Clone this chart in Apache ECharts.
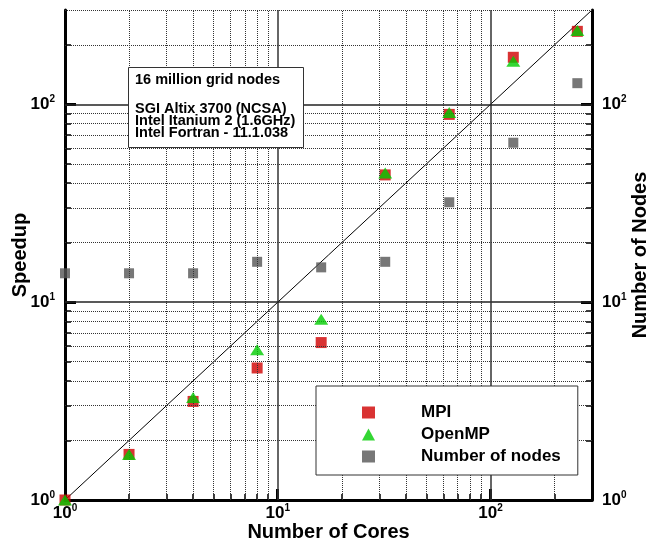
<!DOCTYPE html>
<html>
<head>
<meta charset="utf-8">
<script src="https://cdn.jsdelivr.net/npm/echarts@6/dist/echarts.min.js"></script>
<style>
html,body{margin:0;padding:0;background:#fff;}
#chart{width:651px;height:546px;}
</style>
</head>
<body>
<div id="chart"></div>
<script>
// ---- data ----
const cores = [1, 2, 4, 8, 16, 32, 64, 128, 256];
const mpiSpeedup = [1, 1.7, 3.15, 4.65, 6.25, 44, 89, 173, 234];
const openmpSpeedup = [1, 1.7, 3.3, 5.75, 8.2, 45, 91, 165, 236];
const numNodes = [14, 14, 14, 16, 15, 16, 32, 64, 128];
const idealLine = [1, 300];
const majorTicks = [10, 100];
const labelTicks = [1, 10, 100];
const minorValues = [2, 3, 4, 5, 6, 7, 8, 9, 20, 30, 40, 50, 60, 70, 80, 90, 200];
const infoTitle = '16 million grid nodes';
const infoLines = ['SGI Altix 3700 (NCSA)', 'Intel Itanium 2 (1.6GHz)', 'Intel Fortran - 11.1.038'];

const FONT = '"Liberation Sans", Arial, Helvetica, sans-serif';
const chart = echarts.init(document.getElementById('chart'), null, {renderer: 'canvas'});

const pow10Label = v => '{b|10}{s|' + Math.round(Math.log10(v)) + '}';
const labelRich = {
  b: {fontSize: 17, fontWeight: 'bold', fontFamily: FONT, color: '#000', lineHeight: 20},
  s: {fontSize: 10, fontWeight: 'bold', fontFamily: FONT, color: '#000', verticalAlign: 'top', lineHeight: 12}
};

function mainAxis(extra) {
  return Object.assign({
    type: 'log', logBase: 10, min: 1, max: 300,
    axisLine: {show: true, lineStyle: {color: '#000', width: 3}},
    axisTick: {show: true, inside: true, length: 11, customValues: majorTicks, lineStyle: {color: '#000', width: 3}},
    axisLabel: {show: true, customValues: labelTicks, formatter: pow10Label, rich: labelRich},
    splitLine: {show: false},
    minorTick: {show: false},
    nameMoveOverlap: false,
    nameTextStyle: {fontSize: 20, fontWeight: 'bold', fontFamily: FONT, color: '#000'}
  }, extra);
}
function minorAxis(extra) {
  return Object.assign({
    type: 'log', logBase: 10, min: 1, max: 300,
    axisLine: {show: false},
    axisTick: {show: true, inside: true, length: 6, customValues: minorValues, lineStyle: {color: '#000', width: 1.5}},
    axisLabel: {show: false},
    splitLine: {show: false}
  }, extra);
}

// grid lines as mark lines (drawn through the axes' scales)
const gridMarks = [];
minorValues.forEach(v => {
  gridMarks.push({xAxis: v, lineStyle: {type: 'dotted', color: '#333', width: 1}});
  gridMarks.push({yAxis: v, lineStyle: {type: 'dotted', color: '#333', width: 1}});
});
gridMarks.push({yAxis: 300, lineStyle: {type: 'dotted', color: '#333', width: 1}});
majorTicks.forEach(v => {
  gridMarks.push({xAxis: v, lineStyle: {type: 'solid', color: '#333', width: 1.5}});
  gridMarks.push({yAxis: v, lineStyle: {type: 'solid', color: '#222', width: 1.5}});
});

const option = {
  backgroundColor: '#fff',
  animation: false,
  grid: {left: 65, right: 59, top: 10, bottom: 46, containLabel: false, outerBoundsMode: 'none'},
  xAxis: [
    mainAxis({position: 'bottom', name: 'Number of Cores', nameLocation: 'middle', nameGap: 22,
      axisLabel: {show: true, customValues: labelTicks, formatter: pow10Label, rich: labelRich, margin: 3}}),
    minorAxis({position: 'bottom'})
  ],
  yAxis: [
    mainAxis({position: 'left', name: 'Speedup', nameLocation: 'middle', nameRotate: 90, nameGap: 35,
      axisLabel: {show: true, customValues: labelTicks, formatter: pow10Label, rich: labelRich, margin: 10}}),
    mainAxis({position: 'right', name: 'Number of Nodes', nameLocation: 'middle', nameRotate: 90, nameGap: 38,
      axisLabel: {show: true, customValues: labelTicks, formatter: pow10Label, rich: labelRich, margin: 10}}),
    minorAxis({position: 'left'}),
    minorAxis({position: 'right'})
  ],
  legend: {
    orient: 'vertical',
    left: 316, top: 386,
    backgroundColor: '#fff',
    borderColor: '#333', borderWidth: 1,
    padding: [18, 17, 10, 46],
    itemWidth: 13, itemHeight: 12, itemGap: 5,
    textStyle: {fontSize: 17, fontWeight: 'bold', fontFamily: FONT, color: '#000', padding: [0, 0, 0, 41], lineHeight: 17},
    data: ['MPI', 'OpenMP', 'Number of nodes'],
    z: 10
  },
  graphic: [
    {type: 'rect', left: 128, top: 67, z: 20,
      shape: {width: 175, height: 80}, style: {fill: '#fff', stroke: '#333', lineWidth: 1}},
    {type: 'text', left: 135, top: 72, z: 21,
      style: {text: infoTitle, font: 'bold 14.5px ' + FONT, fill: '#000'}},
    {type: 'text', left: 135, top: 101, z: 21,
      style: {text: infoLines.join('\n'), font: 'bold 14.5px ' + FONT, fill: '#000', lineHeight: 12.2}}
  ],
  series: [
    {
      name: 'ideal', type: 'line', xAxisIndex: 0, yAxisIndex: 0,
      data: idealLine.map(v => [v, v]),
      showSymbol: false, symbol: 'none', silent: true, z: 1,
      lineStyle: {color: '#000', width: 1},
      markLine: {silent: true, symbol: 'none', label: {show: false}, animation: false, data: gridMarks}
    },
    {
      name: 'Number of nodes', type: 'scatter', xAxisIndex: 0, yAxisIndex: 1,
      data: cores.map((c, i) => [c, numNodes[i]]),
      symbol: 'rect', symbolSize: 10, itemStyle: {color: '#555555'}, z: 3
    },
    {
      name: 'MPI', type: 'scatter', xAxisIndex: 0, yAxisIndex: 0,
      data: cores.map((c, i) => [c, mpiSpeedup[i]]),
      symbol: 'rect', symbolSize: 11, itemStyle: {color: '#d00000'}, z: 4
    },
    {
      name: 'OpenMP', type: 'scatter', xAxisIndex: 0, yAxisIndex: 0,
      data: cores.map((c, i) => [c, openmpSpeedup[i]]),
      symbol: 'triangle', symbolSize: [14, 11], itemStyle: {color: '#00cc00'}, z: 5
    }
  ]
};
chart.setOption(option);
</script>
</body>
</html>
